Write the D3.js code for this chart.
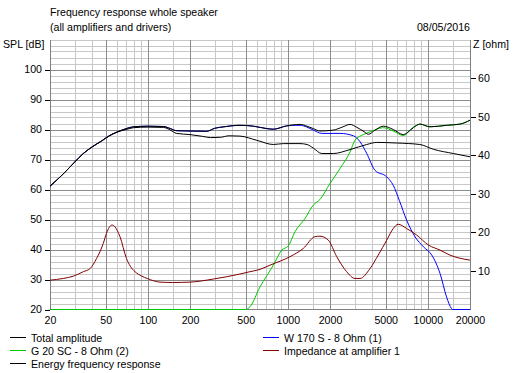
<!DOCTYPE html>
<html>
<head>
<meta charset="utf-8">
<script src="https://cdn.jsdelivr.net/npm/d3@7"></script>
<style>
  html, body { margin: 0; padding: 0; background: #fff; }
  svg { display: block; }
  text { font-family: "Liberation Sans", Arial, sans-serif; font-size: 10.6px; fill: #000; }
</style>
</head>
<body>
<svg id="chart" width="518" height="373"></svg>
<script>
// ---------- data ----------
const title = "Frequency response whole speaker";
const subtitle = "(all amplifiers and drivers)";
const dateLabel = "08/05/2016";
const leftAxisLabel = "SPL [dB]";
const rightAxisLabel = "Z [ohm]";

const freqTickLabels = [20, 50, 100, 200, 500, 1000, 2000, 5000, 10000, 20000];
const freqMinorGrid = [30, 40, 60, 70, 80, 90, 150, 300, 400, 600, 700, 800, 900, 1500, 3000, 4000, 6000, 7000, 8000, 9000, 15000];
const splTicks = [20, 30, 40, 50, 60, 70, 80, 90, 100];
const ohmTicks = [10, 20, 30, 40, 50, 60];

// [frequency Hz, SPL dB]
const totalAmplitude = [
  [20,61.1],[25,65.3],[29.4,68.7],[34.6,72.0],[40,74.2],[46.8,76.2],[53,77.9],[60,79.1],[70,80.3],[79,80.9],
  [100,81.1],[129,81.0],[145,80.3],[160,79.6],[200,79.5],[263,79.4],[300,80.4],[350,80.9],[455,81.4],
  [568,81.1],[708,80.3],[788,80.1],[980,81.2],[1221,81.7],[1370,81.1],[1520,80.3],[1696,79.5],[2110,79.8],
  [2450,80.8],[2780,81.7],[3115,80.7],[3500,79.3],[3760,78.4],[4200,79.8],[4800,81.1],[5660,80.0],
  [6680,78.3],[7500,79.8],[8320,81.4],[8770,81.8],[10360,80.9],[13600,81.4],[16960,81.8],[20000,83.1]
];
const energyResponse = [
  [20,61.1],[25,65.3],[29.4,68.7],[34.6,72.0],[40,74.2],[46.8,76.2],[53,77.9],[60,79.1],[70,80.0],[79,80.6],
  [100,80.8],[129,80.7],[145,79.8],[160,78.7],[200,78.3],[247,77.7],[280,77.3],[330,77.4],[380,77.9],
  [455,77.8],[600,76.4],[788,75.0],[928,75.3],[1221,75.3],[1370,75.0],[1520,73.8],[1746,72.0],[2110,72.0],
  [2780,73.3],[3660,75.0],[4320,75.7],[5980,75.5],[8770,75.0],[10960,73.4],[15180,72.0],[20000,70.9]
];
const woofer = [
  [20,61.1],[25,65.3],[29.4,68.7],[34.6,72.0],[40,74.2],[46.8,76.2],[53,77.9],[60,79.1],[70,80.3],[79,80.9],
  [100,81.1],[129,81.0],[145,80.3],[160,79.6],[200,79.5],[263,79.4],[300,80.4],[350,80.9],[455,81.4],
  [568,81.1],[708,80.3],[788,80.1],[980,81.2],[1140,81.4],[1221,81.4],[1370,80.8],[1520,79.8],[1746,78.7],
  [2360,78.7],[2940,77.9],[3280,75.9],[3660,72.0],[4190,66.4],[5090,64.2],[5660,61.4],[6250,56.4],
  [7050,49.8],[8110,44.2],[9300,40.9],[10680,38.1],[12220,32.0],[13600,24.2],[14770,20.3],[15000,20],[20000,20]
];
const tweeter = [
  [20,20],[500,20],[536,20.9],[632,27.5],[788,34.8],[904,39.8],[1008,41.2],[1124,45.9],[1324,50.3],
  [1520,54.8],[1696,56.7],[2000,62],[2360,67],[2780,72.5],[3016,76.4],[3460,78.3],[3860,79.2],[4800,80.6],
  [5660,79.5],[6680,78.0],[7880,80.8],[8320,81.4],[8770,81.8],[10360,80.9],[13600,81.4],[16960,81.8],[20000,83.1]
];
// [frequency Hz, impedance ohm]
const impedance = [
  [20,7.6],[24.9,8.05],[29.4,8.65],[34.6,9.8],[38.6,10.6],[43,13.2],[48,17.1],[50.6,19.7],[53,21.3],[55.4,21.9],
  [58,21.5],[63.2,18.9],[70.4,13.2],[75,11.2],[81,9.8],[90,8.7],[98.9,8.05],[122,7.1],[150,7.0],[200,7.1],
  [294,7.9],[455,9.2],[536,9.8],[632,10.4],[746,11.5],[1036,13.7],[1286,15.8],[1566,18.9],[1696,19.0],
  [1944,18.0],[2234,13.7],[2630,9.8],[3016,8.05],[3280,8.05],[3860,10.6],[4420,14.1],[5090,18.0],
  [5660,21.0],[6140,22.1],[7050,21.0],[8320,19.3],[10100,16.7],[12220,15.4],[14390,14.1],[20000,12.8]
];

const legendEntries = [
  { name: "Total amplitude", color: "#000000", col: 0, row: 0 },
  { name: "G 20 SC - 8 Ohm (2)", color: "#00c800", col: 0, row: 1 },
  { name: "Energy frequency response", color: "#000000", col: 0, row: 2 },
  { name: "W 170 S - 8 Ohm (1)", color: "#0000ff", col: 1, row: 0 },
  { name: "Impedance at amplifier 1", color: "#800000", col: 1, row: 1 }
];

// ---------- layout ----------
const L = 50, R = 470, T = 39.5, B = 309.5;
const svg = d3.select("#chart");

const x = d3.scaleLog().domain([20, 20000]).range([L, R]);
const y = d3.scaleLinear().domain([20, 110]).range([B, T]);
const yz = d3.scaleLinear().domain([0, 70]).range([B, T]);
const px = v => Math.round(x(v)) + 0.5;

svg.append("rect").attr("x", L).attr("y", T).attr("width", R - L).attr("height", B - T).attr("fill", "#fff");

// grid
const grid = svg.append("g").attr("shape-rendering", "crispEdges");
const hMinor = d3.range(22, 111, 2).filter(v => v % 10 !== 0);
const hMajor = d3.range(30, 111, 10);
grid.selectAll(".hmin").data(hMinor).join("line")
  .attr("x1", L).attr("x2", R).attr("y1", d => Math.round(y(d)) + 0.5).attr("y2", d => Math.round(y(d)) + 0.5)
  .attr("stroke", "#c8c8c8");
grid.selectAll(".vmin").data(freqMinorGrid).join("line")
  .attr("x1", px).attr("x2", px).attr("y1", T).attr("y2", B).attr("stroke", "#c8c8c8");
grid.selectAll(".hmaj").data(hMajor).join("line")
  .attr("x1", L).attr("x2", R).attr("y1", d => Math.round(y(d)) + 0.5).attr("y2", d => Math.round(y(d)) + 0.5)
  .attr("stroke", d => d === 110 ? "#c8c8c8" : "#8c8c8c");
grid.selectAll(".vmaj").data(freqTickLabels.slice(1, -1)).join("line")
  .attr("x1", px).attr("x2", px).attr("y1", T).attr("y2", B).attr("stroke", "#8c8c8c");

// axes frame (under the curves)
const frame = svg.append("g").attr("shape-rendering", "crispEdges");
frame.append("line").attr("x1", L + 0.5).attr("x2", L + 0.5).attr("y1", T).attr("y2", B).attr("stroke", "#808080");
frame.append("line").attr("x1", R + 0.5).attr("x2", R + 0.5).attr("y1", T).attr("y2", B + 0.5).attr("stroke", "#808080");
frame.append("line").attr("x1", L).attr("x2", R).attr("y1", B).attr("y2", B).attr("stroke", "#808080");

// curves
svg.append("clipPath").attr("id", "plotclip")
  .append("rect").attr("x", L).attr("y", T - 1).attr("width", R - L + 1).attr("height", B - T + 2);
const plot = svg.append("g").attr("clip-path", "url(#plotclip)");
const lineSpl = d3.line().x(d => x(d[0])).y(d => y(d[1])).curve(d3.curveMonotoneX);
const lineZ = d3.line().x(d => x(d[0])).y(d => yz(d[1])).curve(d3.curveMonotoneX);

function draw(data, gen, color) {
  plot.append("path").datum(data).attr("d", gen)
    .attr("fill", "none").attr("stroke", color).attr("stroke-width", 1);
}
draw(woofer, lineSpl, "#0000ff");
draw(tweeter, lineSpl, "#00c800");
draw(impedance, lineZ, "#800000");
draw(energyResponse, lineSpl, "#000000");
draw(totalAmplitude, lineSpl, "#000000");

// left axis
const leftAxis = d3.axisLeft(y).tickValues(splTicks).tickSize(5).tickPadding(3).tickFormat(d3.format("d"));
const gl = svg.append("g").attr("transform", `translate(${L},0)`).call(leftAxis);
gl.select(".domain").remove();
gl.selectAll("line").attr("stroke", "#000").attr("shape-rendering", "crispEdges");
gl.selectAll("text").attr("font-family", null).attr("font-size", null);

// right axis
const rightAxis = d3.axisRight(yz).tickValues(ohmTicks).tickSize(5).tickPadding(2).tickFormat(d3.format("d"));
const gr = svg.append("g").attr("transform", `translate(${R + 1},0)`).call(rightAxis);
gr.select(".domain").remove();
gr.selectAll("line").attr("stroke", "#000").attr("shape-rendering", "crispEdges");
gr.selectAll("text").attr("font-family", null).attr("font-size", null);

// bottom axis
const bottomAxis = d3.axisBottom(x).tickValues(freqTickLabels).tickSize(0).tickPadding(7).tickFormat(d3.format("d"));
const gb = svg.append("g").attr("transform", `translate(0,${B})`).call(bottomAxis);
gb.select(".domain").remove();
gb.selectAll("line").remove();
gb.selectAll("text").attr("font-family", null).attr("font-size", null);

// titles
svg.append("text").attr("x", 50).attr("y", 16).text(title);
svg.append("text").attr("x", 50).attr("y", 31).text(subtitle);
svg.append("text").attr("x", 470).attr("y", 31).attr("text-anchor", "end").text(dateLabel);
svg.append("text").attr("x", 3).attr("y", 48).text(leftAxisLabel);
svg.append("text").attr("x", 473).attr("y", 48).text(rightAxisLabel);

// legend
const colX = [10, 263];
const rowY = [337.5, 350.5, 363.5];
const lg = svg.append("g");
legendEntries.forEach(e => {
  lg.append("line").attr("x1", colX[e.col]).attr("x2", colX[e.col] + 16)
    .attr("y1", rowY[e.row]).attr("y2", rowY[e.row])
    .attr("stroke", e.color).attr("shape-rendering", "crispEdges");
  lg.append("text").attr("x", colX[e.col] + 21).attr("y", rowY[e.row] + 4).text(e.name);
});
</script>
</body>
</html>
